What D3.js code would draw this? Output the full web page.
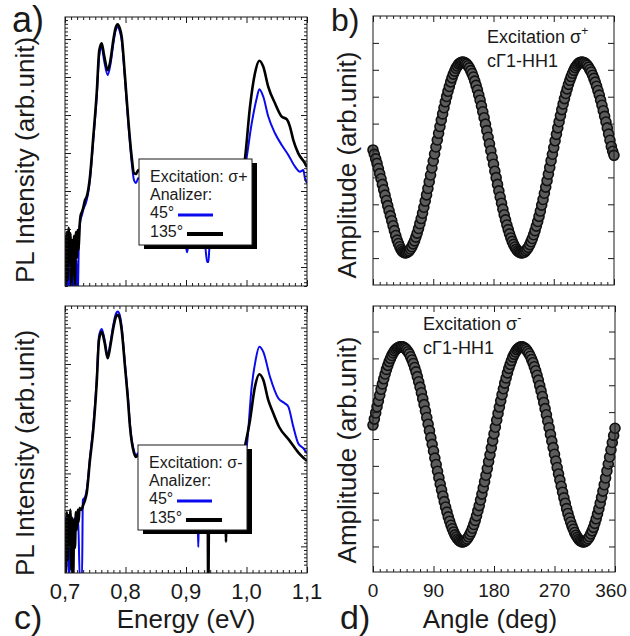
<!DOCTYPE html>
<html>
<head>
<meta charset="utf-8">
<script src="https://cdn.jsdelivr.net/npm/d3@7"></script>
<style>
  body { margin: 0; background: #fff; }
  svg { display: block; font-family: "Liberation Sans", Arial, sans-serif; }
</style>
</head>
<body>
<svg id="chart" width="630" height="636"></svg>
<script>
// ---- data ----
// PL spectra: [energy (eV), intensity (arb. unit)]
const aBlue45 = [[0.700,0.45],[0.7015,-0.9],[0.703,0.71],[0.705,-0.9],[0.707,0.58],[0.709,-0.9],[0.711,0.32],[0.713,-0.9],[0.715,0.50],[0.717,-0.9],[0.719,0.18],[0.721,-0.9],[0.723,0.71],[0.725,1.18],[0.728,1.37],[0.731,1.55],[0.734,1.66],[0.7359,1.76],[0.7413,2.29],[0.7468,3.34],[0.7524,4.47],[0.7567,5.58],[0.7607,5.79],[0.7645,5.45],[0.7706,5.05],[0.7752,5.34],[0.7798,5.87],[0.7835,6.21],[0.7871,6.32],[0.7904,6.21],[0.7937,5.97],[0.7992,4.92],[0.8046,3.79],[0.8102,2.76],[0.8140,2.29],[0.8174,2.21],[0.8212,2.34],[0.8322,1.89],[0.8488,1.50],[0.8653,1.18],[0.8818,0.92],[0.8983,0.71],[0.9017,0.39],[0.9050,0.66],[0.9149,0.58],[0.9314,0.55],[0.9350,0.13],[0.9370,0.13],[0.9390,0.55],[0.9479,0.66],[0.9645,0.92],[0.9810,1.45],[0.9893,2.03],[0.9987,2.73],[1.0086,3.78],[1.0169,4.44],[1.0212,4.68],[1.0278,4.48],[1.0360,3.96],[1.0471,3.52],[1.0582,3.21],[1.0691,2.95],[1.0802,2.64],[1.0884,2.51],[1.0939,2.55],[1.0967,2.33],[1.1,2.21]];
const aBlack135 = [[0.700,0.84],[0.7015,-0.5],[0.703,0.92],[0.7045,-0.34],[0.706,1.03],[0.7075,0.13],[0.709,0.89],[0.7105,-0.5],[0.712,0.71],[0.7135,-0.21],[0.715,0.82],[0.7165,-0.45],[0.718,0.92],[0.7195,0.24],[0.721,0.97],[0.7225,0.45],[0.724,1.03],[0.726,1.37],[0.728,1.45],[0.730,1.55],[0.733,1.76],[0.7359,1.85],[0.7413,2.38],[0.7468,3.43],[0.7524,4.57],[0.7567,5.71],[0.7607,5.89],[0.7645,5.58],[0.7706,5.18],[0.7752,5.45],[0.7798,5.97],[0.7835,6.29],[0.7871,6.39],[0.7904,6.29],[0.7937,6.06],[0.7992,5.01],[0.8046,3.87],[0.8102,2.90],[0.8140,2.47],[0.8174,2.45],[0.8212,2.55],[0.8322,2.16],[0.8488,1.76],[0.8653,1.45],[0.8818,1.18],[0.8983,0.97],[0.9149,0.82],[0.9314,0.76],[0.9479,0.84],[0.9645,1.11],[0.9810,1.63],[0.9893,2.16],[0.9975,2.86],[1.0058,4.22],[1.0140,5.10],[1.0212,5.43],[1.0278,5.27],[1.0360,4.74],[1.0471,4.31],[1.0582,3.96],[1.0664,3.89],[1.0719,3.69],[1.0774,3.34],[1.0856,2.99],[1.0967,2.73],[1.1,2.63]];
const cBlue45 = [[0.700,0.59],[0.703,0.86],[0.7065,-0.9],[0.709,0.72],[0.711,-0.9],[0.7132,-0.9],[0.715,0.78],[0.718,0.45],[0.7215,0.86],[0.7245,-0.9],[0.7281,-0.9],[0.7295,1.27],[0.7331,1.35],[0.7359,1.55],[0.7413,2.45],[0.7463,3.22],[0.7524,4.58],[0.7562,5.76],[0.7607,5.96],[0.7653,5.68],[0.7706,5.24],[0.7752,5.60],[0.7798,6.07],[0.7835,6.35],[0.7871,6.44],[0.7904,6.35],[0.7937,6.02],[0.7992,5.00],[0.8041,4.08],[0.8074,3.35],[0.8140,2.62],[0.8174,2.50],[0.8207,2.55],[0.8322,2.14],[0.8488,1.72],[0.8653,1.36],[0.8818,1.08],[0.8983,0.88],[0.9149,0.72],[0.9195,0.59],[0.9203,-0.02],[0.9211,0.59],[0.9314,0.67],[0.9479,0.70],[0.9645,0.85],[0.9810,1.45],[0.9893,2.09],[1.0003,2.73],[1.0086,4.38],[1.0150,5.10],[1.0212,5.47],[1.0278,5.33],[1.0388,4.65],[1.0526,4.06],[1.0636,3.92],[1.0691,3.83],[1.0774,3.28],[1.0856,2.82],[1.0939,2.69],[1.1,2.55]];
const cBlack135 = [[0.700,0.72],[0.7015,-0.73],[0.703,0.94],[0.7045,-0.37],[0.706,0.86],[0.7075,0.04],[0.709,1.00],[0.7105,-0.65],[0.712,0.78],[0.7135,-0.9],[0.715,0.72],[0.7165,-0.04],[0.718,0.94],[0.7195,0.45],[0.721,1.00],[0.7225,0.67],[0.724,1.05],[0.727,1.00],[0.730,1.13],[0.7331,1.27],[0.7359,1.46],[0.7413,2.37],[0.7463,3.11],[0.7524,4.48],[0.7562,5.66],[0.7607,5.88],[0.7653,5.60],[0.7706,5.16],[0.7752,5.52],[0.7798,5.98],[0.7835,6.26],[0.7871,6.35],[0.7904,6.26],[0.7937,5.93],[0.7992,4.92],[0.8041,4.01],[0.8074,3.28],[0.8140,2.56],[0.8174,2.45],[0.8207,2.50],[0.8322,2.09],[0.8488,1.68],[0.8653,1.33],[0.8818,1.05],[0.8983,0.86],[0.9149,0.72],[0.9314,0.67],[0.9360,0.59],[0.9365,-0.9],[0.9372,-0.9],[0.9378,0.59],[0.9479,0.67],[0.9655,0.72],[0.9661,0.12],[0.9668,0.72],[0.9810,1.41],[0.9893,2.09],[0.9975,2.75],[1.0058,3.46],[1.0140,4.38],[1.0212,4.72],[1.0278,4.56],[1.0360,4.01],[1.0421,3.74],[1.0537,3.28],[1.0702,2.92],[1.0868,2.55],[1.1,2.34]];

// polarisation scans: analyser angle (deg) and amplitude (arb. unit)
const angles = [0,2,4,6,8,10,12,14,16,18,20,22,24,26,28,30,32,34,36,38,40,42,44,46,48,50,52,54,56,58,60,62,64,66,68,70,72,74,76,78,80,82,84,86,88,90,92,94,96,98,100,102,104,106,108,110,112,114,116,118,120,122,124,126,128,130,132,134,136,138,140,142,144,146,148,150,152,154,156,158,160,162,164,166,168,170,172,174,176,178,180,182,184,186,188,190,192,194,196,198,200,202,204,206,208,210,212,214,216,218,220,222,224,226,228,230,232,234,236,238,240,242,244,246,248,250,252,254,256,258,260,262,264,266,268,270,272,274,276,278,280,282,284,286,288,290,292,294,296,298,300,302,304,306,308,310,312,314,316,318,320,322,324,326,328,330,332,334,336,338,340,342,344,346,348,350,352,354,356,358,360];
const ampSigmaPlus = [5.02,4.86,4.69,4.52,4.33,4.14,3.95,3.74,3.54,3.34,3.14,2.95,2.76,2.57,2.39,2.20,2.02,1.84,1.67,1.54,1.42,1.32,1.25,1.21,1.19,
  1.20,1.23,1.27,1.34,1.42,1.53,1.64,1.78,1.93,2.10,2.28,2.47,2.67,2.89,3.12,3.35,3.59,3.84,4.09,4.35,4.61,4.87,5.13,5.39,5.64,5.89,6.13,6.36,6.59,6.81,7.01,7.20,7.38,7.55,7.70,7.84,7.95,8.06,8.14,8.21,8.25,8.28,8.29,
  8.28,8.25,8.21,8.15,8.07,7.97,7.86,7.73,7.58,7.42,7.25,7.06,6.87,6.66,6.44,6.22,5.98,5.74,5.49,5.25,4.99,4.74,4.49,4.23,3.99,3.74,3.50,3.27,3.04,2.82,2.61,2.42,2.23,2.06,1.90,1.75,1.62,1.51,1.41,1.33,1.27,1.23,1.20,1.19,
  1.20,1.22,1.27,1.33,1.40,1.50,1.61,1.73,1.87,2.02,2.19,2.36,2.55,2.75,2.97,3.18,3.41,3.64,3.88,4.12,4.37,4.62,4.86,5.11,5.36,5.60,5.84,6.07,6.30,6.52,6.73,6.93,7.12,7.29,7.46,7.61,7.75,7.87,7.98,8.08,8.15,8.21,8.26,8.28,8.29,
  8.28,8.26,8.22,8.17,8.10,8.01,7.92,7.80,7.68,7.54,7.39,7.23,7.06,6.87,6.68,6.48,6.27,6.06,5.84,5.61,5.38,5.15,4.97,4.82];
const ampSigmaMinus = [5.52,5.74,5.97,6.20,6.41,6.63,6.85,7.05,7.24,7.42,7.59,7.74,7.88,8.00,8.11,8.20,8.28,8.34,8.38,8.41,8.43,8.43,
  8.43,8.41,8.37,8.32,8.25,8.17,8.06,7.94,7.81,7.66,7.50,7.32,7.13,6.93,6.72,6.50,6.28,6.04,5.80,5.55,5.31,5.05,4.80,4.55,4.29,4.05,3.80,3.56,3.32,3.10,2.88,2.67,2.47,2.28,2.10,1.94,1.79,1.66,1.54,1.43,1.35,1.28,1.23,1.19,1.17,
  1.17,1.19,1.23,1.28,1.36,1.45,1.55,1.68,1.82,1.97,2.14,2.33,2.52,2.73,2.95,3.18,3.41,3.65,3.90,4.16,4.41,4.67,4.93,5.19,5.44,5.70,5.95,6.19,6.42,6.65,6.87,7.08,7.27,7.46,7.63,7.78,7.92,8.05,8.15,8.24,8.32,8.37,8.41,8.43,
  8.43,8.41,8.38,8.33,8.26,8.18,8.08,7.96,7.84,7.69,7.54,7.37,7.19,6.99,6.79,6.58,6.36,6.13,5.90,5.66,5.42,5.17,4.92,4.68,4.43,4.18,3.94,3.70,3.47,3.24,3.02,2.81,2.61,2.41,2.23,2.06,1.91,1.76,1.64,1.52,1.42,1.34,1.27,1.22,1.19,1.17,
  1.17,1.19,1.23,1.29,1.37,1.47,1.58,1.71,1.86,2.03,2.21,2.40,2.61,2.83,3.06,3.30,3.55,3.81,4.07,4.33,4.60,4.87,5.13,5.40];

// ticks and labels
const energyTicks = [0.7, 0.8, 0.9, 1.0, 1.1];
const angleTicks = [0, 90, 180, 270, 360];
const intensityTicks = [0, 1, 2, 3, 4, 5, 6];
const amplitudeTicks = [1, 2, 3, 4, 5, 6, 7, 8, 9];
const legendPlus = ["Excitation: σ+", "Analizer:", "45°", "135°"];
const legendMinus = ["Excitation: σ-", "Analizer:", "45°", "135°"];

const ink = "#1a1a1a";
const blue = "#0a0aee";
const svg = d3.select("#chart");

// draws the box and inward ticks on all four sides
function frame(box, x, y, xMaj, xMin, yMaj, yMin) {
  const g = svg.append("g");
  const sides = [
    [d3.axisBottom, x, xMaj, xMin, `translate(0,${box.y1})`],
    [d3.axisTop, x, xMaj, xMin, `translate(0,${box.y0})`],
    [d3.axisLeft, y, yMaj, yMin, `translate(${box.x0},0)`],
    [d3.axisRight, y, yMaj, yMin, `translate(${box.x1},0)`]
  ];
  sides.forEach(([axis, sc, maj, min, tr]) => {
    [[maj, 6], [min, 3]].forEach(([vals, len]) => {
      if (!vals.length) return;
      g.append("g").attr("transform", tr)
        .call(axis(sc).tickValues(vals).tickSize(-len).tickSizeOuter(0).tickFormat(""))
        .call(s => s.select(".domain").remove())
        .call(s => s.selectAll("line").attr("stroke", ink).attr("stroke-width", 1));
    });
  });
  g.append("rect")
    .attr("x", box.x0).attr("y", box.y0)
    .attr("width", box.x1 - box.x0).attr("height", box.y1 - box.y0)
    .attr("fill", "none").attr("stroke", ink).attr("stroke-width", 1);
}

function clip(id, box) {
  svg.append("clipPath").attr("id", id).append("rect")
    .attr("x", box.x0).attr("y", box.y0)
    .attr("width", box.x1 - box.x0).attr("height", box.y1 - box.y0);
}

function legend(x, y, w, h, lines) {
  const g = svg.append("g");
  g.append("rect").attr("x", x + 5).attr("y", y + 4).attr("width", w).attr("height", h).attr("fill", "#000");
  g.append("rect").attr("x", x).attr("y", y).attr("width", w).attr("height", h)
    .attr("fill", "#fff").attr("stroke", ink).attr("stroke-width", 1);
  const base = [23, 41, 59, 78];
  lines.forEach((t, i) => {
    g.append("text").attr("x", x + 11).attr("y", y + base[i])
      .attr("font-size", 16).attr("fill", ink).text(t);
  });
  g.append("line").attr("x1", x + 39).attr("x2", x + 74).attr("y1", y + 56).attr("y2", y + 56)
    .attr("stroke", blue).attr("stroke-width", 3);
  g.append("line").attr("x1", x + 48).attr("x2", x + 84).attr("y1", y + 75).attr("y2", y + 75)
    .attr("stroke", "#000").attr("stroke-width", 4);
}

function yTitle(text, x, y) {
  svg.append("text").attr("transform", `translate(${x},${y}) rotate(-90)`)
    .attr("text-anchor", "middle").attr("font-size", 26).attr("fill", ink).text(text);
}

function label(text, x, y, size) {
  svg.append("text").attr("x", x).attr("y", y).attr("font-size", size).attr("fill", ink).text(text);
}

const energyMinor = d3.range(0.7, 1.1001, 0.01).filter(v => Math.abs(v * 10 - Math.round(v * 10)) > 1e-6);
const angleMinor = d3.range(0, 361, 10).filter(v => v % 90 !== 0);

// ---- spectra panels (a, c) ----
[
  { box: { x0: 65, x1: 307, y0: 17, y1: 286 }, dom: [-0.5, 6.58], blueData: aBlue45, blackData: aBlack135,
    leg: [139, 159, 113, 86, legendPlus], id: "clipA" },
  { box: { x0: 65, x1: 307, y0: 306, y1: 573 }, dom: [-0.73, 6.59], blueData: cBlue45, blackData: cBlack135,
    leg: [138, 445, 109, 85, legendMinus], id: "clipC" }
].forEach(p => {
  const x = d3.scaleLinear().domain([0.7, 1.1]).range([p.box.x0, p.box.x1]);
  const y = d3.scaleLinear().domain(p.dom).range([p.box.y1, p.box.y0]);
  const yMinor = d3.range(-0.5, 6.6, 0.1).filter(v => v >= p.dom[0] && v <= p.dom[1] && Math.abs(v - Math.round(v)) > 1e-6);
  clip(p.id, p.box);
  const line = d3.line().x(d => x(d[0])).y(d => y(d[1])).curve(d3.curveMonotoneX);
  const g = svg.append("g").attr("clip-path", `url(#${p.id})`);
  g.append("path").attr("d", line(p.blueData)).attr("fill", "none").attr("stroke", blue).attr("stroke-width", 2).attr("stroke-linejoin", "round");
  g.append("path").attr("d", line(p.blackData)).attr("fill", "none").attr("stroke", "#000").attr("stroke-width", 2.6).attr("stroke-linejoin", "round");
  frame(p.box, x, y, energyTicks, energyMinor, intensityTicks, yMinor);
  legend(...p.leg);
});

// energy tick labels under panel c
const xE = d3.scaleLinear().domain([0.7, 1.1]).range([65, 307]);
svg.append("g").selectAll("text").data(energyTicks).join("text")
  .attr("x", d => xE(d)).attr("y", 599).attr("text-anchor", "middle")
  .attr("font-size", 22).attr("fill", ink)
  .text(d => d3.format(".1f")(d).replace(".", ","));

// ---- polarisation panels (b, d) ----
[
  { box: { x0: 373, x1: 614, y0: 16, y1: 285 }, dom: [0, 10], amp: ampSigmaPlus, sign: "+", ty: 43, tx: 487 },
  { box: { x0: 373, x1: 615, y0: 306, y1: 572 }, dom: [0.05, 9.95], amp: ampSigmaMinus, sign: "-", ty: 330, tx: 423 }
].forEach(p => {
  const x = d3.scaleLinear().domain([0, 360]).range([p.box.x0, p.box.x1]);
  const y = d3.scaleLinear().domain(p.dom).range([p.box.y1, p.box.y0]);
  svg.append("g").selectAll("circle").data(angles).join("circle")
    .attr("cx", d => x(d)).attr("cy", (d, i) => y(p.amp[i])).attr("r", 5)
    .attr("fill", "#5c5c5c").attr("stroke", "#101010").attr("stroke-width", 1.6);
  frame(p.box, x, y, angleTicks, angleMinor, amplitudeTicks, []);
  const t = svg.append("text").attr("x", p.tx).attr("y", p.ty).attr("font-size", 18).attr("fill", ink);
  t.append("tspan").text("Excitation σ");
  t.append("tspan").attr("dy", -8).attr("font-size", 12).text(p.sign);
  label("cΓ1-HH1", p.tx, p.ty + 24, 18);
});

const xA = d3.scaleLinear().domain([0, 360]).range([373, 615]);
svg.append("g").selectAll("text").data(angleTicks).join("text")
  .attr("x", d => Math.min(xA(d), 611)).attr("y", 597).attr("text-anchor", "middle")
  .attr("font-size", 19).attr("fill", ink).text(d => d);

// ---- titles and panel letters ----
yTitle("PL Intensity (arb.unit)", 34, 160);
yTitle("PL Intensity (arb.unit)", 34, 453);
yTitle("Amplitude (arb.unit)", 356, 165);
yTitle("Amplitude (arb.unit)", 356, 450);
svg.append("text").attr("x", 186).attr("y", 628).attr("text-anchor", "middle").attr("font-size", 26).attr("fill", ink).text("Energy (eV)");
svg.append("text").attr("x", 490).attr("y", 628).attr("text-anchor", "middle").attr("font-size", 26).attr("fill", ink).text("Angle (deg)");
label("a)", 12, 32, 36);
label("b)", 331, 31, 32);
label("c)", 14, 629, 34);
label("d)", 340, 629, 34);
</script>
</body>
</html>
